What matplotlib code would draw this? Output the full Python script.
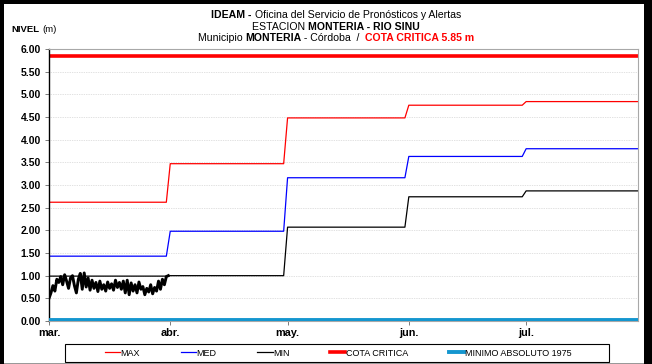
import numpy as np
import matplotlib
matplotlib.use("Agg")
import matplotlib.pyplot as plt
import matplotlib.dates as mdates
from matplotlib.patches import Rectangle
from matplotlib.lines import Line2D

plt.rcParams["font.family"] = ["Liberation Sans", "DejaVu Sans"]

# Monthly reference levels (m)
month_labels = ["mar.", "abr.", "may.", "jun.", "jul."]
month_starts = np.array(["2011-03-01", "2011-04-01", "2011-05-01", "2011-06-01", "2011-07-01"],
                        dtype="datetime64[D]")
days_in_month = [31, 30, 31, 30, 31]
nivel_max = [2.62, 3.47, 4.48, 4.76, 4.84]
nivel_med = [1.43, 1.98, 3.16, 3.63, 3.80]
nivel_min = [0.99, 1.00, 2.07, 2.74, 2.87]
cota_critica = 5.85
minimo_absoluto = 0.03

# Observed level, twice a day from 1 March
nivel_observado = [
    0.50, 0.62, 0.78, 0.66, 0.92, 0.85, 0.98, 0.80, 1.02, 0.88,
    0.72, 0.95, 1.00, 0.78, 0.62, 0.92, 1.05, 0.70, 1.06, 0.75,
    0.95, 0.68, 0.90, 0.72, 0.85, 0.65, 0.88, 0.70, 0.80, 0.66,
    0.86, 0.72, 0.82, 0.68, 0.90, 0.74, 0.85, 0.70, 0.88, 0.62,
    0.90, 0.58, 0.84, 0.66, 0.80, 0.62, 0.86, 0.70, 0.76, 0.58,
    0.72, 0.64, 0.80, 0.60, 0.74, 0.66, 0.88, 0.70, 0.92, 0.80,
    0.98, 1.00,
]

dias = np.arange(np.datetime64("2011-03-01"), np.datetime64("2011-08-01"), dtype="datetime64[D]")
serie_max = np.repeat(nivel_max, days_in_month)
serie_med = np.repeat(nivel_med, days_in_month)
serie_min = np.repeat(nivel_min, days_in_month)
t_obs = np.datetime64("2011-03-01T00:00") + np.arange(len(nivel_observado)) * np.timedelta64(12, "h")

W, H = 652, 364
fig = plt.figure(figsize=(W / 100, H / 100), dpi=100, facecolor="white")
ax = fig.add_axes([49 / W, 1 - 321 / H, (638 - 49) / W, (321 - 49) / H])
ax.set_facecolor("white")

ax.plot(dias, serie_max, color="#ff0000", lw=0.9)
ax.plot(dias, serie_med, color="#0000ff", lw=0.9)
ax.plot(dias, serie_min, color="#000000", lw=0.9)
ax.axhline(cota_critica, color="#ff0000", lw=2.6)
ax.axhline(minimo_absoluto, color="#1496cf", lw=2.8, zorder=5)
ax.plot(t_obs, nivel_observado, color="#000000", lw=2.1)

x0 = mdates.date2num(np.datetime64("2011-03-01"))
ax.set_xlim(x0, x0 + 150.6)
ax.set_ylim(0, 6)
yt = np.arange(0, 6.01, 0.5)
ax.set_yticks(yt)
ax.set_yticklabels([f"{v:.2f}" for v in yt], fontsize=7.5, fontweight="bold")
ax.set_xticks(mdates.date2num(month_starts))
ax.set_xticklabels(month_labels, fontsize=7.8, fontweight="bold")
ax.tick_params(axis="both", length=3, width=0.6, color="#666666", pad=2)
ax.tick_params(axis="y", pad=3)
ax.grid(axis="y", color="#c4c4c4", lw=0.5, ls=(0, (1, 1.5)))
ax.set_axisbelow(True)
for s in ["top", "right", "bottom"]:
    ax.spines[s].set_color("#a8a8a8")
    ax.spines[s].set_linewidth(0.8)
ax.spines["left"].set_color("#000000")
ax.spines["left"].set_linewidth(1.0)


def text_runs(y, parts, cx, size):
    texts = [fig.text(0, y, s, fontsize=size, fontweight=w, color=c, va="center", ha="left")
             for s, w, c in parts]
    r = fig.canvas.get_renderer()
    widths = [t.get_window_extent(r).width for t in texts]
    x = cx * W - sum(widths) / 2
    for t, w in zip(texts, widths):
        t.set_x(x / W)
        x += w


cx = 336 / W
text_runs(1 - 15 / H, [("IDEAM - ", "bold", "k"),
                       ("Oficina del Servicio de Pronósticos y Alertas", "normal", "k")], cx, 7.6)
text_runs(1 - 26.5 / H, [("ESTACION ", "normal", "k"),
                         ("MONTERIA - RIO SINU", "bold", "k")], cx, 7.6)
text_runs(1 - 38 / H, [("Municipio ", "normal", "k"), ("MONTERIA", "bold", "k"),
                       (" - Córdoba  /  ", "normal", "k"),
                       ("COTA CRITICA 5.85 m", "bold", "#ff0000")], cx, 7.6)

fig.text(11 / W, 1 - 29 / H, "NIVEL", fontsize=6.8, fontweight="bold", va="center", ha="left")
fig.text(42 / W, 1 - 29 / H, "(m)", fontsize=6.8, va="center", ha="left")

handles = [Line2D([], [], color="#ff0000", lw=0.9), Line2D([], [], color="#0000ff", lw=0.9),
           Line2D([], [], color="#000000", lw=0.9), Line2D([], [], color="#ff0000", lw=2.6),
           Line2D([], [], color="#1496cf", lw=2.8)]
labels = ["MAX", "MED", "MIN", "COTA CRITICA", "MINIMO ABSOLUTO 1975"]
leg = fig.legend(handles, labels, loc="center", ncol=5,
                 bbox_to_anchor=(338 / W, 1 - 353 / H),
                 fontsize=6.5, handlelength=1.7, handletextpad=0.05, columnspacing=4.5,
                 frameon=False, borderaxespad=0)

# Legend box and outer frame
fig.add_artist(Rectangle((65 / W, 2 / H), (609 - 65) / W, 18 / H, transform=fig.transFigure,
                         facecolor="none", edgecolor="#000000", lw=0.8, zorder=3))
fig.add_artist(Rectangle((0, 0), 4 / W, 1, transform=fig.transFigure,
                         facecolor="#000000", edgecolor="none", zorder=10))
fig.add_artist(Rectangle((0, 1 - 4 / H), 1, 4 / H, transform=fig.transFigure,
                         facecolor="#000000", edgecolor="none", zorder=10))
fig.add_artist(Rectangle((644 / W, 0), 8 / W, 1, transform=fig.transFigure,
                         facecolor="#000000", edgecolor="none", zorder=10))
fig.add_artist(Rectangle((0, 0), 1, 1.5 / H, transform=fig.transFigure,
                         facecolor="#999999", edgecolor="none", zorder=9))

fig.savefig("out.png", dpi=100, facecolor="white")
